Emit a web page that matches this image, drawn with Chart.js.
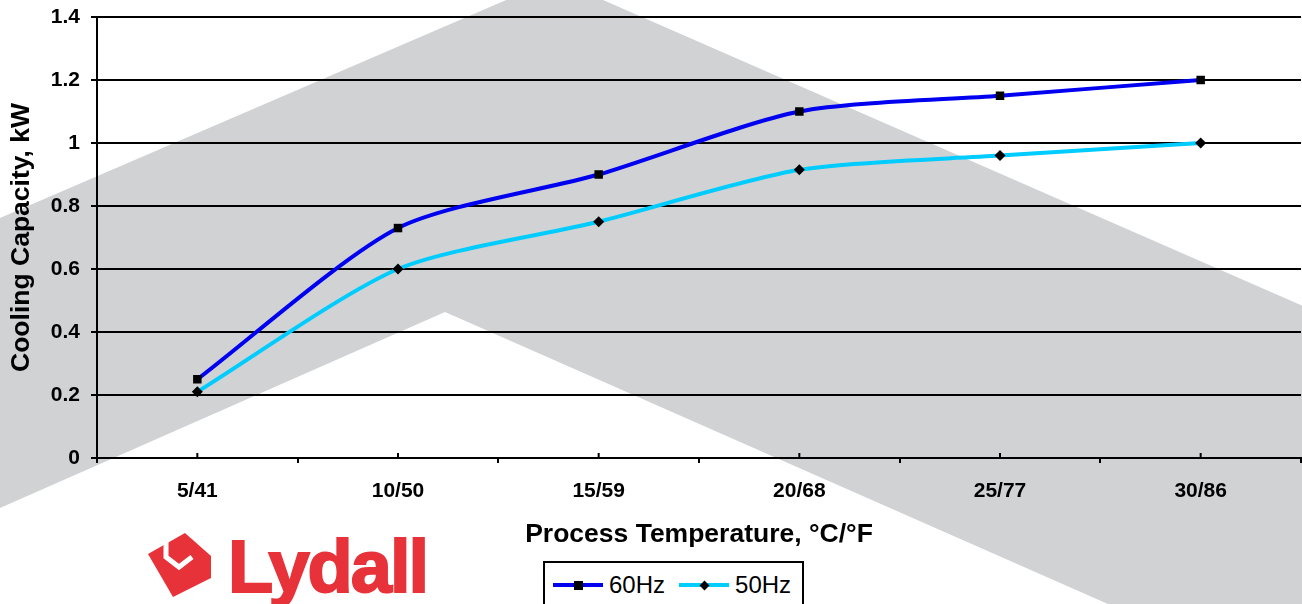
<!DOCTYPE html>
<html><head><meta charset="utf-8">
<script src="https://cdn.jsdelivr.net/npm/chart.js@4.4.1/dist/chart.umd.min.js"></script>
<style>
html,body{margin:0;padding:0;background:#fff;overflow:hidden}
#wrap{position:relative;width:1302px;height:604px;overflow:hidden}
#c{position:absolute;left:0;top:0}
#legend{position:absolute;left:543px;top:561px;width:261px;height:60px;border:2px solid #000;background:#fff;
 font-family:"Liberation Sans",Arial,sans-serif;font-size:24px;color:#000;display:flex;align-items:flex-start;padding-left:8px;box-sizing:border-box}
.item{display:flex;align-items:center;height:44px;margin-right:14px}
.sw{position:relative;width:50px;height:4px;margin-right:6px}
.mk{position:absolute;left:50%;top:50%;background:#000}
.mk.sq{width:9px;height:9px;margin-left:-4.5px;margin-top:-4.5px}
.mk.dm{width:7px;height:7px;margin-left:-3.5px;margin-top:-3.5px;transform:rotate(45deg)}
#logo{position:absolute;left:140px;top:525px}
</style></head>
<body><div id="wrap">
<canvas id="c" width="1307" height="604"></canvas>
<div id="legend"></div>
<svg id="logo" width="300" height="90" viewBox="140 525 300 90">
  <polygon points="148,554 185,533 211,556 211,578 173,597" fill="#E8323A"/>
  <polyline points="166,539 166,557 179,567 192,557" fill="none" stroke="#fff" stroke-width="5"/>
  <text x="228" y="592" font-family="Liberation Sans, Arial, sans-serif" font-weight="bold" font-size="74" letter-spacing="-2" fill="#E8323A" stroke="#E8323A" stroke-width="2">Lydall</text>
</svg>
</div>
<script>
const categories = ['5/41', '10/50', '15/59', '20/68', '25/77', '30/86'];
const hz60 = [0.25, 0.73, 0.90, 1.10, 1.15, 1.20];
const hz50 = [0.21, 0.60, 0.75, 0.915, 0.96, 1.00];
const seriesNames = ['60Hz', '50Hz'];
const seriesColors = ['#0000F0', '#00CCFF'];
const seriesMarkers = ['rect', 'rectRot'];
const yMin = 0, yMax = 1.4, yStep = 0.2;
const xTitle = 'Process Temperature, \u00B0C/\u00B0F';
const yTitle = 'Cooling Capacity, kW';

const bgShape = {
  id: 'bgShape',
  beforeDraw(chart) {
    const ctx = chart.ctx;
    ctx.save();
    ctx.fillStyle = '#fff';
    ctx.fillRect(0, 0, chart.width, chart.height);
    ctx.fillStyle = '#D1D2D4';
    ctx.beginPath();
    ctx.moveTo(0, 218);
    ctx.lineTo(555, -21);
    ctx.lineTo(1310, 309);
    ctx.lineTo(1310, 693);
    ctx.lineTo(445, 312);
    ctx.lineTo(0, 508);
    ctx.closePath();
    ctx.fill();
    ctx.restore();
  }
};

const innerTicks = {
  id: 'innerTicks',
  afterDraw(chart) {
    const x = chart.scales.x, ctx = chart.ctx;
    ctx.save();
    ctx.strokeStyle = '#000';
    ctx.lineWidth = 2;
    for (let i = 0; i < categories.length; i++) {
      const px = x.getPixelForTick(i);
      ctx.beginPath();
      ctx.moveTo(px, x.top);
      ctx.lineTo(px, x.top - 5);
      ctx.stroke();
    }
    ctx.restore();
  }
};

const makeDs = (i, data) => ({
  label: seriesNames[i],
  data: data,
  borderColor: seriesColors[i],
  backgroundColor: '#000',
  borderWidth: 4,
  pointStyle: seriesMarkers[i],
  pointRadius: i === 0 ? 6 : 5.5,
  pointBackgroundColor: '#000',
  pointBorderColor: '#000',
  pointBorderWidth: 0,
  tension: 0.25,
  fill: false
});

const zeroPad = s => { s.paddingLeft = 0; s.paddingRight = 0; s.paddingTop = 0; s.paddingBottom = 0; };

const chart = new Chart(document.getElementById('c'), {
  type: 'line',
  data: { labels: categories, datasets: [makeDs(0, hz60), makeDs(1, hz50)] },
  options: {
    responsive: false,
    animation: false,
    layout: { padding: { top: 17, right: 0, bottom: 0, left: 0 } },
    plugins: { legend: { display: false }, tooltip: { enabled: false } },
    scales: {
      x: {
        type: 'category',
        offset: true,
        afterFit(s) { s.height = 146; zeroPad(s); },
        grid: { offset: true, drawOnChartArea: false, drawTicks: true, tickLength: 5, color: '#000', lineWidth: 2 },
        border: { display: true, color: '#000', width: 2 },
        ticks: { autoSkip: false, maxRotation: 0, padding: 16, color: '#000',
          font: { family: 'Liberation Sans, Arial, sans-serif', size: 21, weight: 'bold' } },
        title: { display: true, text: xTitle, color: '#000', padding: { top: 0, bottom: 53 },
          font: { family: 'Liberation Sans, Arial, sans-serif', size: 26.5, weight: 'bold' } }
      },
      y: {
        min: yMin, max: yMax,
        afterFit(s) { s.width = 97; zeroPad(s); },
        grid: { color: '#000', lineWidth: 2, drawTicks: true, tickLength: 6 },
        border: { display: true, color: '#000', width: 2 },
        ticks: { stepSize: yStep, padding: 11, color: '#000',
          callback: v => String(Number(v.toFixed(1))),
          font: { family: 'Liberation Sans, Arial, sans-serif', size: 21, weight: 'bold' } },
        title: { display: true, text: yTitle, color: '#000', padding: { top: 6, bottom: 0 },
          font: { family: 'Liberation Sans, Arial, sans-serif', size: 26.5, weight: 'bold' } }
      }
    }
  },
  plugins: [bgShape, innerTicks]
});

// HTML legend built from the datasets
const leg = document.getElementById('legend');
chart.data.datasets.forEach((ds, i) => {
  const it = document.createElement('div');
  it.className = 'item';
  const sw = document.createElement('div');
  sw.className = 'sw';
  sw.style.background = ds.borderColor;
  const mk = document.createElement('div');
  mk.className = 'mk ' + (ds.pointStyle === 'rect' ? 'sq' : 'dm');
  sw.appendChild(mk);
  const tx = document.createElement('span');
  tx.textContent = ds.label;
  it.appendChild(sw); it.appendChild(tx);
  leg.appendChild(it);
});
</script>
</body></html>
